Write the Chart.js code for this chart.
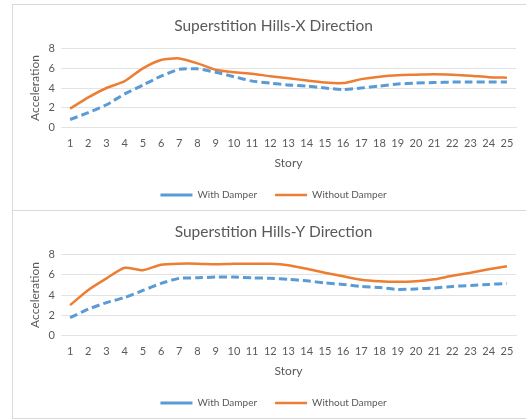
<!DOCTYPE html>
<html>
  <head>
    <meta charset="utf-8">
    <title>Superstition Hills</title>
    <script src="https://cdn.jsdelivr.net/npm/chart.js"></script>
    <style>
      body {
        margin: 0;
        background: #fff;
      }
      .chart-box {
        position: absolute;
        left: 12px;
        width: 514px;
        border-left: 1px solid #d9d9d9;
        border-top: 1px solid #d9d9d9;
      }
      #boxX {
        top: 4px;
        height: 205px;
      }
      #boxY {
        top: 210px;
        height: 207px;
        border-bottom: 1px solid #d9d9d9;
      }
      canvas {
        display: block;
      }
    </style>
  </head>
  <body>
    <div class="chart-box" id="boxX">
      <canvas id="chartX" width="513" height="205"></canvas>
    </div>
    <div class="chart-box" id="boxY">
      <canvas id="chartY" width="513" height="207"></canvas>
    </div>
    <script>
      // story numbers along the x axis
      var stories = ['1', '2', '3', '4', '5', '6', '7', '8', '9', '10', '11', '12', '13',
        '14', '15', '16', '17', '18', '19', '20', '21', '22', '23', '24', '25'];
      var yTicks = [0, 2, 4, 6, 8];

      // X direction
      var xWithDamper = [0.8, 1.5, 2.3, 3.4, 4.3, 5.2, 5.9, 5.95, 5.6, 5.15, 4.7, 4.5, 4.3,
        4.2, 4.0, 3.85, 4.0, 4.2, 4.4, 4.5, 4.55, 4.6, 4.6, 4.6, 4.6];
      var xWithoutDamper = [1.9, 3.05, 4.0, 4.7, 6.0, 6.85, 7.0, 6.5, 5.85, 5.6, 5.45, 5.2, 5.0,
        4.75, 4.55, 4.5, 4.9, 5.15, 5.3, 5.35, 5.4, 5.35, 5.25, 5.1, 5.05];

      // Y direction
      var yWithDamper = [1.75, 2.6, 3.25, 3.75, 4.45, 5.15, 5.65, 5.7, 5.78, 5.78, 5.7, 5.65, 5.55,
        5.4, 5.2, 5.05, 4.85, 4.75, 4.55, 4.6, 4.7, 4.85, 4.95, 5.05, 5.15];
      var yWithoutDamper = [3.0, 4.5, 5.65, 6.7, 6.45, 7.0, 7.1, 7.1, 7.05, 7.1, 7.1, 7.1, 6.95,
        6.6, 6.2, 5.85, 5.5, 5.35, 5.3, 5.35, 5.55, 5.9, 6.2, 6.55, 6.85];

      var fontFamily = 'Lato, "Liberation Sans", sans-serif';
      var textColor = '#595959';
      var gridColor = '#e3e3e3';

      function makeChart(canvasId, title, withDamper, withoutDamper) {
        return new Chart(document.getElementById(canvasId).getContext('2d'), {
          type: 'line',
          data: {
            labels: stories,
            datasets: [{
              label: 'With Damper',
              data: withDamper,
              borderColor: '#5b9bd5',
              backgroundColor: '#5b9bd5',
              borderWidth: 3,
              borderDash: [8, 4],
              pointRadius: 0,
              tension: 0.2
            }, {
              label: 'Without Damper',
              data: withoutDamper,
              borderColor: '#ed7d31',
              backgroundColor: '#ed7d31',
              borderWidth: 2.5,
              pointRadius: 0,
              tension: 0.2
            }]
          },
          options: {
            responsive: false,
            animation: false,
            layout: {
              // left padding pushes title + legend centre to the right like the original
              padding: { left: 18, right: 10, top: 0, bottom: 0 }
            },
            plugins: {
              title: {
                display: true,
                text: title,
                color: textColor,
                font: { family: fontFamily, size: 15.5, weight: 'normal' },
                padding: { top: 12, bottom: 13 }
              },
              legend: {
                position: 'bottom',
                labels: {
                  color: textColor,
                  font: { family: fontFamily, size: 10 },
                  usePointStyle: true,
                  pointStyle: 'line',
                  pointStyleWidth: 32,
                  padding: 18
                }
              },
              tooltip: { enabled: false }
            },
            scales: {
              x: {
                offset: true,
                grid: { display: false, drawTicks: false },
                border: { display: true, color: gridColor },
                ticks: {
                  color: textColor,
                  font: { family: fontFamily, size: 11 },
                  padding: 9,
                  maxRotation: 0,
                  autoSkip: false
                },
                title: {
                  display: true,
                  text: 'Story',
                  color: textColor,
                  font: { family: fontFamily, size: 12 },
                  padding: { top: -3, bottom: 2 }
                }
              },
              y: {
                min: yTicks[0],
                max: yTicks[yTicks.length - 1],
                grid: { color: gridColor, drawTicks: false },
                border: { display: false },
                ticks: {
                  stepSize: yTicks[1] - yTicks[0],
                  color: textColor,
                  font: { family: fontFamily, size: 11 },
                  padding: 6
                },
                title: {
                  display: true,
                  text: 'Acceleration',
                  color: textColor,
                  font: { family: fontFamily, size: 12 },
                  padding: { top: -3, bottom: 4 }
                },
                afterFit: function(scale) {
                  scale.width = 30;
                }
              }
            }
          }
        });
      }

      makeChart('chartX', 'Superstition Hills-X Direction', xWithDamper, xWithoutDamper);
      makeChart('chartY', 'Superstition Hills-Y Direction', yWithDamper, yWithoutDamper);
    </script>
  </body>
</html>
